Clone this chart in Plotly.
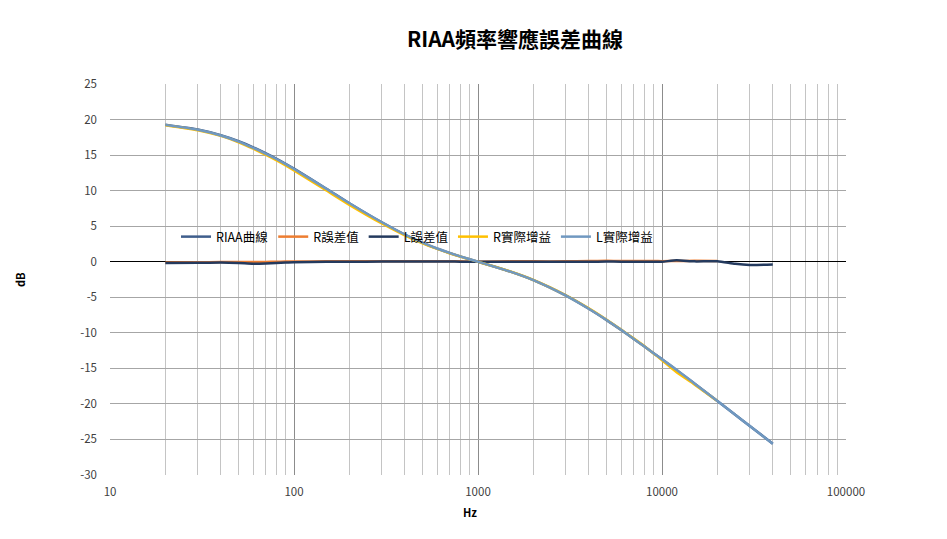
import plotly.graph_objects as go

freq = [20, 30, 40, 50, 60, 70, 80, 90, 100, 150, 200, 300, 400, 500, 600, 700, 800, 900,
        1000, 1500, 2000, 3000, 4000, 5000, 6000, 7000, 8000, 9000, 10000, 12000, 15000,
        20000, 25000, 30000, 40000]

riaa = [19.27, 18.59, 17.79, 16.95, 16.10, 15.28, 14.51, 13.78, 13.09, 10.27, 8.22, 5.53,
        3.81, 2.65, 1.84, 1.23, 0.75, 0.34, 0.00, -1.40, -2.59, -4.74, -6.61, -8.21, -9.60,
        -10.82, -11.89, -12.86, -13.73, -15.25, -17.14, -19.60, -21.52, -23.10, -25.59]

r_err = [-0.10, -0.08, -0.05, -0.05, -0.05, -0.03, 0.00, 0.02, 0.03, 0.05, 0.05, 0.05,
         0.05, 0.05, 0.05, 0.05, 0.05, 0.02, 0.00, 0.05, 0.05, 0.05, 0.10, 0.12, 0.10,
         0.10, 0.10, 0.10, 0.08, 0.10, 0.12, 0.10]

l_err = [-0.18, -0.15, -0.12, -0.18, -0.28, -0.25, -0.18, -0.12, -0.06, -0.02, 0.00, 0.02,
         0.02, 0.03, 0.02, 0.02, 0.01, 0.01, 0.00, 0.00, 0.00, -0.02, 0.00, 0.02, 0.01,
         0.00, 0.00, 0.00, 0.00, 0.20, 0.05, 0.05, -0.30, -0.45, -0.40]

r_gain = [19.20, 18.50, 17.70, 16.80, 15.90, 15.05, 14.28, 13.55, 12.85, 10.02, 8.00, 5.38,
          3.72, 2.60, 1.80, 1.20, 0.73, 0.33, 0.00, -1.38, -2.57, -4.72, -6.55, -8.15, -9.55,
          -10.78, -11.85, -12.90, -13.85, -15.55, -17.25, -19.60]

l_gain = [19.25, 18.56, 17.76, 16.90, 16.02, 15.20, 14.45, 13.73, 13.05, 10.25, 8.22, 5.55,
          3.83, 2.68, 1.86, 1.25, 0.76, 0.35, 0.00, -1.40, -2.59, -4.76, -6.61, -8.19, -9.59,
          -10.82, -11.89, -12.86, -13.73, -15.20, -17.12, -19.58, -21.53, -23.12, -25.60]

names = ["RIAA曲線", "R誤差值", "L誤差值", "R實際增益", "L實際增益"]
colors = ["#3F5E8C", "#ED7D31", "#243A5E", "#FFC000", "#7098C0"]
widths = [2.5, 2.5, 2.5, 2.5, 2.5]

y_ticks = [-30, -25, -20, -15, -10, -5, 0, 5, 10, 15, 20, 25]
x_major = [10, 100, 1000, 10000, 100000]
x_minor = [m * d for d in [10, 100, 1000, 10000] for m in range(2, 10)]

FONT = "Noto Sans CJK TC, Noto Sans, sans-serif"

fig = go.Figure()
series = [riaa, r_err, l_err, r_gain, l_gain]
for name, ys, col, w in zip(names, series, colors, widths):
    fig.add_trace(go.Scatter(
        x=freq[:len(ys)], y=ys, name=name, mode="lines",
        line=dict(color=col, width=w, shape="spline", smoothing=0.6),
    ))

fig.update_layout(
    width=947, height=539,
    margin=dict(l=110, r=101, t=84, b=64),
    paper_bgcolor="white", plot_bgcolor="white",
    font=dict(family=FONT, size=11, color="#404040"),
    title=dict(text="<b>RIAA頻率響應誤差曲線</b>", x=515 / 947, xanchor="center",
               y=1 - 40 / 539, yanchor="middle",
               font=dict(family=FONT, size=21, color="#000000")),
    showlegend=True,
    legend=dict(orientation="h", x=(176 - 110) / 736, xanchor="left",
                y=(475 - 237) / 391, yanchor="middle",
                bgcolor="rgba(0,0,0,0)", font=dict(family=FONT, size=12.5, color="#000000"),
                itemwidth=30, tracegroupgap=0),
    xaxis=dict(type="log", range=[1, 5], tickvals=x_major,
               ticktext=[str(v) for v in x_major],
               showgrid=True, gridcolor="#8C8C8C", gridwidth=1,
               minor=dict(tickvals=x_minor, showgrid=True, gridcolor="#C4C4C4", gridwidth=1),
               zeroline=False, showline=False, ticks="", ticklabelstandoff=8,
               tickfont=dict(family=FONT, size=11.5, color="#404040")),
    yaxis=dict(range=[-30, 25], tickvals=y_ticks, ticktext=[str(v) for v in y_ticks],
               showgrid=True, gridcolor="#A6A6A6", gridwidth=1,
               zeroline=True, zerolinecolor="#000000", zerolinewidth=1,
               showline=False, ticks="", ticklabelstandoff=12,
               tickfont=dict(family=FONT, size=11.5, color="#404040")),
    annotations=[
        dict(text="<b>dB</b>", xref="paper", yref="paper", x=(20 - 110) / 736,
             y=(475 - 280) / 391, showarrow=False, textangle=-90,
             font=dict(family=FONT, size=11, color="#000000"),
             xanchor="center", yanchor="middle"),
        dict(text="<b>Hz</b>", xref="paper", yref="paper", x=(470 - 110) / 736,
             y=(475 - 512) / 391, showarrow=False,
             font=dict(family=FONT, size=11, color="#000000"),
             xanchor="center", yanchor="middle"),
    ],
)

fig.write_html("out.html")
